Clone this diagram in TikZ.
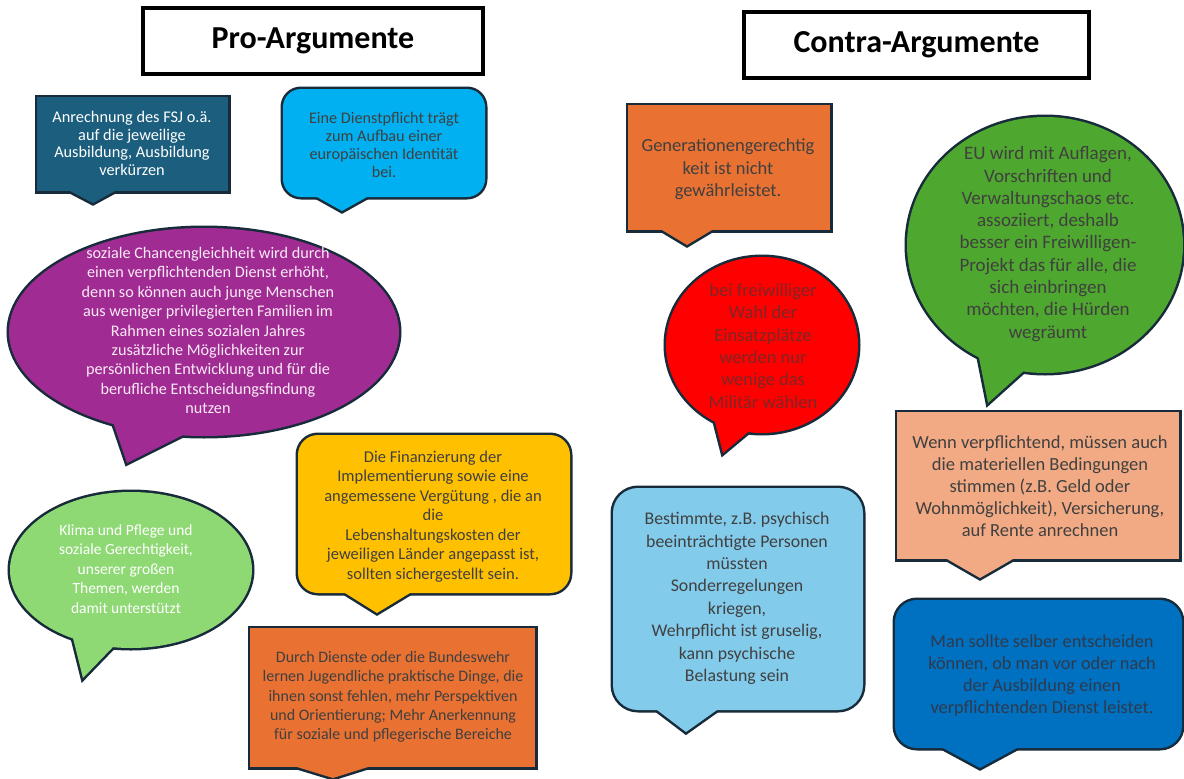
\documentclass[tikz,border=0pt]{standalone}
\usepackage{fontspec}
\setmainfont{Carlito}
\usetikzlibrary{calc}
\definecolor{bord}{HTML}{172B3A}
\definecolor{dgray}{HTML}{404040}
\definecolor{cteal}{HTML}{1B5E7D}
\definecolor{cblue}{HTML}{00B0F0}
\definecolor{cpurple}{HTML}{A02B93}
\definecolor{cyellow}{HTML}{FFC000}
\definecolor{clgreen}{HTML}{8ED973}
\definecolor{corange}{HTML}{E97132}
\definecolor{cred}{HTML}{FF0000}
\definecolor{cdgreen}{HTML}{4EA72E}
\definecolor{csalmon}{HTML}{F2AA84}
\definecolor{clblue}{HTML}{83CBEB}
\definecolor{cmblue}{HTML}{0070C0}
\definecolor{redtext}{HTML}{7E2626}
\definecolor{bluetext}{HTML}{2F3A4C}
\definecolor{pinkwhite}{HTML}{FAEAF6}
% #1 fill colour, #2 extra options for main shape, #3 main shape path, #4 pointer: base1, tip, base2
\newcommand\bubble[6]{%
  \draw[bord, line width=5pt, #2] #3;
  \draw[bord, line width=5pt, line join=miter] ($#5!1.6!#4$) -- #5 -- ($#5!1.6!#6$) -- cycle;
  \fill[#1, #2] #3;
  \fill[#1] ($#5!1.6!#4$) -- #5 -- ($#5!1.6!#6$) -- cycle;}
\begin{document}
\begin{tikzpicture}[x=1pt,y=-1pt,
  txt/.style={align=center, inner sep=0pt, text=dgray},
  ttl/.style={draw=black, line width=4pt, fill=white, inner sep=0pt,
    font=\fontsize{32}{36}\selectfont\bfseries}]
\useasboundingbox (0,0) rectangle (1184,779);
\fill[white] (0,0) rectangle (1184,779);

% titles
\node[ttl, minimum width=340pt, minimum height=66pt] (pro) at (313,41) {Pro-Argumente};
\node[ttl, minimum width=345pt, minimum height=66pt] (contra) at (916.5,45) {Contra-Argumente};

% ---- Pro side ----
\bubble{cteal}{}{(37,97) rectangle (228,191)}{(70,191)}{(93,203)}{(115,191)}
\node[txt, text=white, font=\fontsize{16.3}{17.7}\selectfont] (t1) at (132,143.5)
  {Anrechnung des FSJ o.ä.\\auf die jeweilige\\Ausbildung, Ausbildung\\verkürzen};

\bubble{cblue}{rounded corners=18pt}{(283,89) rectangle (485,197)}{(317,197)}{(342,211)}{(367,197)}
\node[txt, font=\fontsize{16.2}{18}\selectfont] (t2) at (384,144.5)
  {Eine Dienstpflicht trägt\\zum Aufbau einer\\europäischen Identität\\bei.};

\bubble{cpurple}{}{(204,332) ellipse[x radius=195, y radius=104]}{(113,422)}{(127,463)}{(183,435)}
\node[txt, text=pinkwhite, font=\fontsize{16.2}{19.4}\selectfont] (t3) at (208,330.5)
  {soziale Chancengleichheit wird durch\\einen verpflichtenden Dienst erhöht,\\denn so können auch junge Menschen\\aus weniger privilegierten Familien im\\Rahmen eines sozialen Jahres\\zusätzliche Möglichkeiten zur\\persönlichen Entwicklung und für die\\berufliche Entscheidungsfindung\\nutzen};

\bubble{cyellow}{rounded corners=20pt}{(298,435) rectangle (570,593)}{(345,593)}{(377,613)}{(410,593)}
\node[txt, font=\fontsize{16.5}{19.5}\selectfont] (t4) at (433,516.5)
  {Die Finanzierung der\\Implementierung sowie eine\\angemessene Vergütung , die an\\die\\Lebenshaltungskosten der\\jeweiligen Länder angepasst ist,\\sollten sichergestellt sein.};

\bubble{clgreen}{}{(131,570) ellipse[x radius=121, y radius=78]}{(73,638)}{(83,678)}{(112,648)}
\node[txt, text=white, font=\fontsize{15.5}{19.5}\selectfont] (t5) at (126,569)
  {Klima und Pflege und\\soziale Gerechtigkeit,\\unserer großen\\Themen, werden\\damit unterstützt};

\bubble{corange}{}{(250,628) rectangle (535,767)}{(297,767)}{(333,778)}{(368,767)}
\node[txt, font=\fontsize{16}{19.2}\selectfont] (t6) at (393,697)
  {Durch Dienste oder die Bundeswehr\\lernen Jugendliche praktische Dinge, die\\ihnen sonst fehlen, mehr Perspektiven\\und Orientierung; Mehr Anerkennung\\für soziale und pflegerische Bereiche};

% ---- Contra side ----
\bubble{corange}{}{(628,105) rectangle (830,230)}{(662,230)}{(687,245)}{(712,230)}
\node[txt, font=\fontsize{18.5}{22.5}\selectfont] (t7) at (728,169.5)
  {Generationengerechtig\\keit ist nicht\\gewährleistet.};

\bubble{cred}{}{(762,345) ellipse[x radius=96, y radius=88]}{(715,422)}{(723,453)}{(747,433)}
\node[txt, text=redtext, font=\fontsize{18.5}{22.4}\selectfont] (t8) at (763,346)
  {bei freiwilliger\\Wahl der\\Einsatzplätze\\werden nur\\wenige das\\Militär wählen};

\bubble{cdgreen}{}{(1045,245) ellipse[x radius=138, y radius=128]}{(978,353)}{(988,403)}{(1027,368)}
\node[txt, font=\fontsize{19}{22.3}\selectfont] (t9) at (1048,244)
  {EU wird mit Auflagen,\\Vorschriften und\\Verwaltungschaos etc.\\assoziiert, deshalb\\besser ein Freiwilligen-\\Projekt das für alle, die\\sich einbringen\\möchten, die Hürden\\wegräumt};

\bubble{csalmon}{}{(897,412) rectangle (1179,559)}{(947,559)}{(980,578)}{(1013,559)}
\node[txt, font=\fontsize{18.5}{22}\selectfont] (t10) at (1040,486)
  {Wenn verpflichtend, müssen auch\\die materiellen Bedingungen\\stimmen (z.B. Geld oder\\Wohnmöglichkeit), Versicherung,\\auf Rente anrechnen};

\bubble{clblue}{rounded corners=25pt}{(613,488) rectangle (863,710)}{(657,710)}{(686,732)}{(717,710)}
\node[txt, font=\fontsize{17.8}{22.4}\selectfont] (t11) at (737,598.5)
  {Bestimmte, z.B. psychisch\\beeinträchtigte Personen\\müssten\\Sonderregelungen\\kriegen,\\Wehrpflicht ist gruselig,\\kann psychische\\Belastung sein};

\bubble{cmblue}{rounded corners=22pt}{(895,600) rectangle (1182,748)}{(943,748)}{(980,768)}{(1017,748)}
\node[txt, text=bluetext, font=\fontsize{18.3}{22}\selectfont] (t12) at (1042,675.5)
  {Man sollte selber entscheiden\\können, ob man vor oder nach\\der Ausbildung einen\\verpflichtenden Dienst leistet.};
\end{tikzpicture}
\end{document}
